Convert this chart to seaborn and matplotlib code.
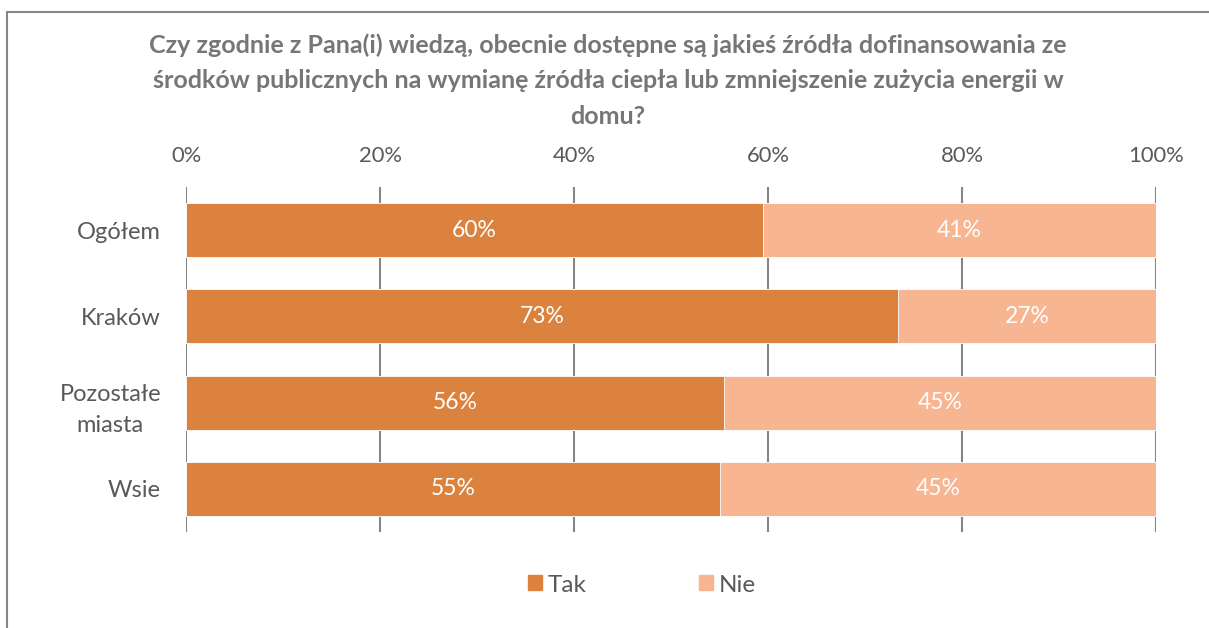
import matplotlib
matplotlib.use("Agg")
import matplotlib.pyplot as plt
import seaborn as sns
import pandas as pd
from matplotlib.lines import Line2D
from matplotlib.patches import Patch

# data
categories = ["Ogółem", "Kraków", "Pozostałe\nmiasta", "Wsie"]
tak = [59.5, 73.4, 55.5, 55.1]
nie = [40.5, 26.6, 44.5, 44.9]
x_ticks = [0, 20, 40, 60, 80, 100]
title = ("Czy zgodnie z Pana(i) wiedzą, obecnie dostępne są jakieś źródła dofinansowania ze\n"
         "środków publicznych na wymianę źródła ciepła lub zmniejszenie zużycia energii w\n"
         "domu?")

c_tak = "#DA823E"
c_nie = "#F7B591"
txt = "#595959"

sns.set_style("white")
plt.rcParams["font.family"] = ["Lato", "DejaVu Sans"]

df = pd.DataFrame({"kat": categories, "Tak": tak, "Nie": nie})
df["suma"] = [min(t + n, 100) for t, n in zip(tak, nie)]

fig = plt.figure(figsize=(12.09, 6.28), dpi=100)
ax = fig.add_axes([186 / 1209, 1 - 532 / 628, 970 / 1209, 345 / 628])

# stacked bars: full length in light colour, then "Tak" on top
sns.barplot(data=df, y="kat", x="suma", color=c_nie, orient="h", width=0.625,
            ax=ax, zorder=3, saturation=1, edgecolor="white", linewidth=0.6)
sns.barplot(data=df, y="kat", x="Tak", color=c_tak, orient="h", width=0.625,
            ax=ax, zorder=4, saturation=1, edgecolor="white", linewidth=0.6)

for i, (t, n) in enumerate(zip(tak, nie)):
    ax.text(t / 2, i, f"{int(t + 0.5)}%", ha="center", va="center",
            color="white", fontsize=16.5, zorder=5)
    ax.text(t + n / 2, i, f"{int(n + 0.5)}%", ha="center", va="center",
            color="white", fontsize=16.5, zorder=5)

ax.set_xlim(0, 100)
ax.set_ylim(3.5, -0.5)
ax.set_xticks(x_ticks)
ax.set_xticklabels([f"{v}%" for v in x_ticks])
ax.xaxis.tick_top()
ax.tick_params(axis="x", length=0, pad=15, labelsize=15.8, labelcolor=txt)
ax.tick_params(axis="y", length=0, pad=18, labelsize=17, labelcolor=txt)
for lab in ax.get_yticklabels():
    lab.set_multialignment("center")
    lab.set_linespacing(1.6)
ax.set_xlabel("")
ax.set_ylabel("")
ax.grid(axis="x", color="#868686", linewidth=1.5, zorder=0)
ax.set_axisbelow(True)
for s in ax.spines.values():
    s.set_visible(False)

fig.text(0.503, 1 - 33 / 628, title, ha="center", va="top", fontsize=18,
         fontweight="bold", color="#767676", linespacing=1.68)

handles = [Patch(color=c_tak, label="Tak"), Patch(color=c_nie, label="Nie")]
fig.legend(handles=handles, loc="center", bbox_to_anchor=(0.531, 1 - 585 / 628),
           ncol=2, frameon=False, fontsize=17.5, handlelength=0.58, handleheight=0.58,
           handletextpad=0.25, columnspacing=4.6, labelcolor=txt)

# outer frame (left and top edges visible)
fig.add_artist(Line2D([7 / 1209, 7 / 1209], [0, 1 - 12 / 628], transform=fig.transFigure,
                      color="#878787", linewidth=1.5))
fig.add_artist(Line2D([7 / 1209, 1], [1 - 12 / 628, 1 - 12 / 628], transform=fig.transFigure,
                      color="#878787", linewidth=1.5))

fig.savefig("out.png", dpi=100)
